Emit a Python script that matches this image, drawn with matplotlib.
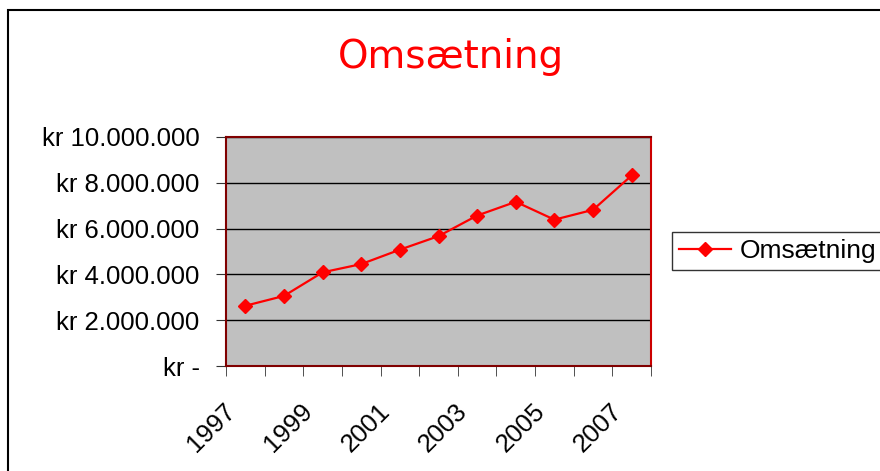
import matplotlib.pyplot as plt
from matplotlib.patches import Rectangle
from matplotlib.ticker import FixedLocator, FuncFormatter
import matplotlib.transforms as mtransforms

plt.rcParams["font.family"] = ["Liberation Sans", "DejaVu Sans"]

years = [1997, 1998, 1999, 2000, 2001, 2002, 2003, 2004, 2005, 2006, 2007]
omsaetning = [2630000, 3060000, 4090000, 4450000, 5080000, 5670000,
              6570000, 7170000, 6390000, 6820000, 8320000]
yticks = [0, 2000000, 4000000, 6000000, 8000000, 10000000]


def kr_fmt(v, pos):
    if v == 0:
        return "kr -"
    return "kr " + f"{int(v):,}".replace(",", ".")


fig = plt.figure(figsize=(8.8, 4.71), dpi=100)
ax = fig.add_axes([226 / 880, 1 - 366 / 471, 425 / 880, 229 / 471])

# outer chart frame
fig.patches.append(Rectangle((8 / 880, -0.05), 1.0, 1 - 10 / 471 + 0.05,
                             transform=fig.transFigure, fill=False,
                             edgecolor="black", linewidth=1.5))

x = list(range(len(years)))
ax.plot(x, omsaetning, color="red", linewidth=1.6, marker="D",
        markersize=7.5, label="Omsætning", zorder=3)

ax.set_facecolor("#C0C0C0")
ax.set_xlim(-0.5, len(years) - 0.5)
ax.set_ylim(0, 10000000)
ax.set_yticks(yticks)
ax.yaxis.set_major_formatter(FuncFormatter(kr_fmt))
ax.grid(axis="y", color="black", linewidth=1)
ax.set_axisbelow(True)

ax.xaxis.set_major_locator(FixedLocator(x[::2]))
ax.set_xticklabels([str(y) for y in years[::2]], rotation=45, ha="right",
                   rotation_mode="anchor")
ax.xaxis.set_minor_locator(FixedLocator([i - 0.5 for i in range(len(years) + 1)]))
ax.tick_params(axis="x", which="major", length=0, pad=24, labelsize=18.5)
ax.tick_params(axis="x", which="minor", length=7, direction="out", color="#333333")
ax.tick_params(axis="y", length=7, direction="out", color="#333333", labelsize=18.5, pad=12)

offset = mtransforms.ScaledTranslation(-0.22, 0, fig.dpi_scale_trans)
for lbl in ax.get_xticklabels():
    lbl.set_transform(lbl.get_transform() + offset)

for s in ax.spines.values():
    s.set_color("#800000")
    s.set_linewidth(1.5)
ax.spines["right"].set_color("#CC0000")

fig.text(451 / 880, 1 - 57 / 471, "Omsætning", color="red", fontsize=28,
         family="DejaVu Sans", ha="center", va="center")

leg = fig.legend(loc="center left", bbox_to_anchor=(672 / 880, 1 - 251 / 471),
                 fontsize=19, frameon=True, fancybox=False, edgecolor="black",
                 handlelength=2.0, handletextpad=0.3, borderpad=0.25,
                 borderaxespad=0)
leg.get_frame().set_linewidth(1)

fig.savefig("out.png", dpi=100)
